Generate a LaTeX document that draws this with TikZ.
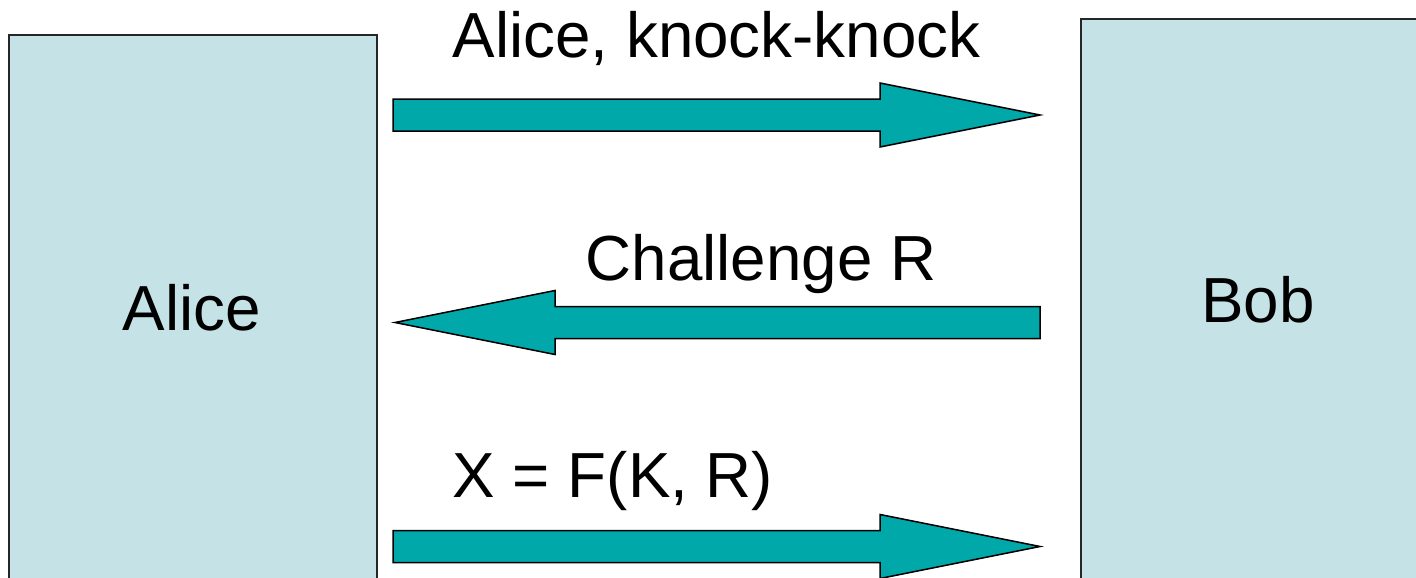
\documentclass[tikz,border=0pt]{standalone}
\usepackage{fontspec}
\setmainfont{Liberation Sans}
\definecolor{boxfill}{HTML}{C5E3E6}
\definecolor{arrowfill}{HTML}{00A8A9}
\begin{document}
\begin{tikzpicture}[x=1pt,y=-1pt,
  party/.style={fill=boxfill,draw=black!85,line width=1.8pt},
  blockarrow/.style={fill=arrowfill,draw=black,line width=1.5pt,line join=miter},
  msg/.style={font=\fontsize{63.7}{70}\selectfont,anchor=base,inner sep=0pt}]
\useasboundingbox (0,0) rectangle (1416,578);
\clip (0,0) rectangle (1416,578);

% the two parties
\draw[party] (9,35) rectangle (377,600);
\draw[party] (1081,19) rectangle (1430,600);
\node[msg] (alice) at (192,330) {Alice};
\node[msg] (bob) at (1258,322) {Bob};

% message 1: Alice -> Bob
\coordinate (m1s) at (393,115);
\coordinate (m1t) at (1040,115);
\draw[blockarrow] ([yshift=-16]m1s) -- ([yshift=-16]m1s -| 880,0) -- ([yshift=-32]m1s -| 880,0)
  -- (m1t) -- ([yshift=32]m1s -| 880,0) -- ([yshift=16]m1s -| 880,0) -- ([yshift=16]m1s) -- cycle;
\node[msg] (l1) at (716.5,58) {Alice, knock-knock};

% message 2: Bob -> Alice
\coordinate (m2s) at (1040,322.5);
\coordinate (m2t) at (395,322.5);
\draw[blockarrow] ([yshift=-16]m2s) -- ([yshift=-16]m2s -| 555,0) -- ([yshift=-32]m2s -| 555,0)
  -- (m2t) -- ([yshift=32]m2s -| 555,0) -- ([yshift=16]m2s -| 555,0) -- ([yshift=16]m2s) -- cycle;
\node[msg] (l2) at (761,280) {Challenge R};

% message 3: Alice -> Bob
\coordinate (m3s) at (393,546.5);
\coordinate (m3t) at (1040,546.5);
\draw[blockarrow] ([yshift=-16]m3s) -- ([yshift=-16]m3s -| 880,0) -- ([yshift=-32]m3s -| 880,0)
  -- (m3t) -- ([yshift=32]m3s -| 880,0) -- ([yshift=16]m3s -| 880,0) -- ([yshift=16]m3s) -- cycle;
\node[msg] (l3) at (613,497) {X = F(K, R)};
\end{tikzpicture}
\end{document}
